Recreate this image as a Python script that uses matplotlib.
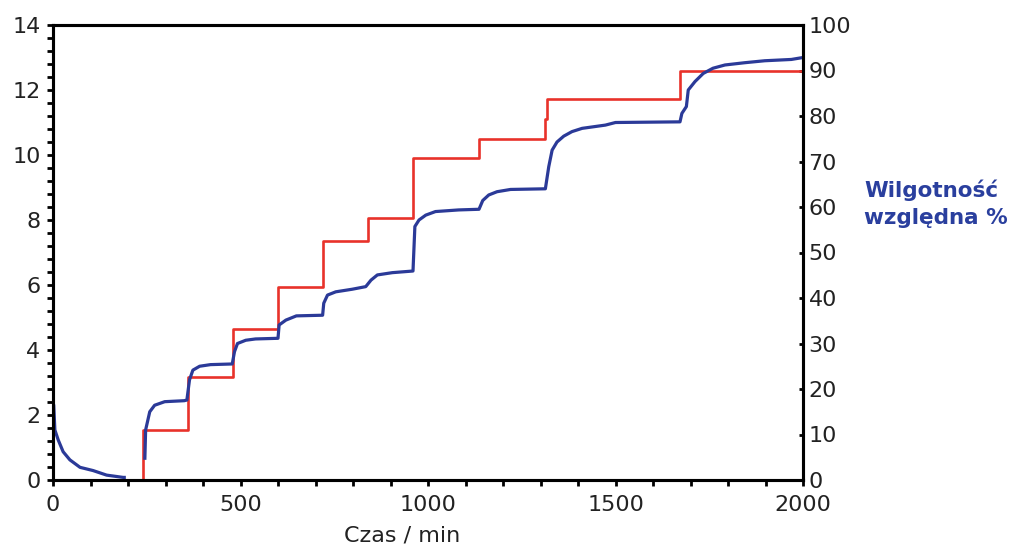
import matplotlib.pyplot as plt
import numpy as np
from matplotlib.ticker import MultipleLocator

plt.rcParams['font.family'] = ['DejaVu Sans']

# Masa (lewa oś) - odczytane punkty krzywej niebieskiej
czas_masa = [0, 2, 5, 14, 27, 45, 72, 107, 143, 187, 190,
             245, 247, 258, 271, 298, 350, 357,
             364, 373, 391, 420, 478,
             484, 492, 514, 540, 600,
             603, 621, 649, 719,
             722, 732, 754, 798, 834, 848, 865, 905, 960,
             965, 976, 994, 1020, 1082, 1136,
             1146, 1162, 1184, 1220, 1313,
             1322, 1331, 1344, 1362, 1384, 1411, 1473, 1500, 1672,
             1677, 1689, 1694, 1712, 1734, 1760, 1792, 1845, 1898, 1969, 2000]
masa = [2.38, 2.3, 1.54, 1.23, 0.87, 0.62, 0.39, 0.29, 0.15, 0.08, 0.08,
        0.67, 1.54, 2.1, 2.3, 2.41, 2.44, 2.46,
        3.08, 3.38, 3.5, 3.55, 3.57,
        3.95, 4.2, 4.3, 4.34, 4.36,
        4.77, 4.92, 5.05, 5.07,
        5.44, 5.69, 5.79, 5.87, 5.95, 6.15, 6.31, 6.38, 6.43,
        7.8, 8.0, 8.15, 8.26, 8.31, 8.33,
        8.6, 8.77, 8.87, 8.94, 8.96,
        9.64, 10.15, 10.4, 10.58, 10.72, 10.82, 10.92, 11.0, 11.02,
        11.28, 11.49, 12.0, 12.26, 12.51, 12.67, 12.77, 12.84, 12.9, 12.94, 13.0]

# Wilgotność względna (prawa oś) - kroki
czas_rh = [0, 240, 360, 480, 600, 719, 839, 960, 1136, 1313, 1316, 1672, 2000]
rh = [0, 11, 22.6, 33.2, 42.5, 52.5, 57.6, 70.7, 75, 79.3, 83.7, 90, 90]

czas_masa = np.array(czas_masa, dtype=float)
masa = np.array(masa, dtype=float)
# przerwa w danych między 190 a 245 min
gap = np.where(czas_masa == 190)[0][0]
czas_plot = np.insert(czas_masa, gap + 1, 200)
masa_plot = np.insert(masa, gap + 1, np.nan)

fig = plt.figure(figsize=(10.16, 5.5), dpi=100)
ax = fig.add_axes([53 / 1016, 70 / 550, 750 / 1016, 455 / 550])
ax2 = ax.twinx()

ax2.plot(czas_rh, rh, drawstyle='steps-post', color='#e8322a', lw=1.9)
ax.plot(czas_plot, masa_plot, color='#2b3a98', lw=2.3)

ax.set_zorder(ax2.get_zorder() + 1)
ax.patch.set_visible(False)

ax.set_xlim(0, 2000)
ax.set_ylim(0, 14)
ax2.set_ylim(0, 100)

ax.set_xticks([0, 500, 1000, 1500, 2000])
ax.xaxis.set_minor_locator(MultipleLocator(100))
ax.set_yticks(np.arange(0, 15, 2))
ax.yaxis.set_minor_locator(MultipleLocator(0.4))
ax2.set_yticks(np.arange(0, 101, 10))

for sp in ax.spines.values():
    sp.set_linewidth(2.2)
for sp in ax2.spines.values():
    sp.set_linewidth(2.2)

ax.tick_params(axis='both', which='both', direction='out', length=4, width=2,
               labelsize=16, labelcolor='#222222')
ax.tick_params(axis='x', which='major', pad=7)
ax.tick_params(axis='y', which='major', pad=5)
ax.tick_params(axis='x', which='minor', length=4)
ax2.tick_params(axis='y', direction='in', length=3, width=2, labelsize=16,
                labelcolor='#222222', pad=4)

ax.set_xlabel('Czas / min', fontsize=16, color='#222222')
ax.xaxis.set_label_coords(0.465, -0.10)

fig.text(864 / 1016, 1 - 204 / 550, 'Wilgotność\nwzględna %', fontsize=15.5,
         fontweight='bold', color='#2a3f9e', ha='left', va='center',
         linespacing=1.45)

fig.savefig('out.png', dpi=100)
